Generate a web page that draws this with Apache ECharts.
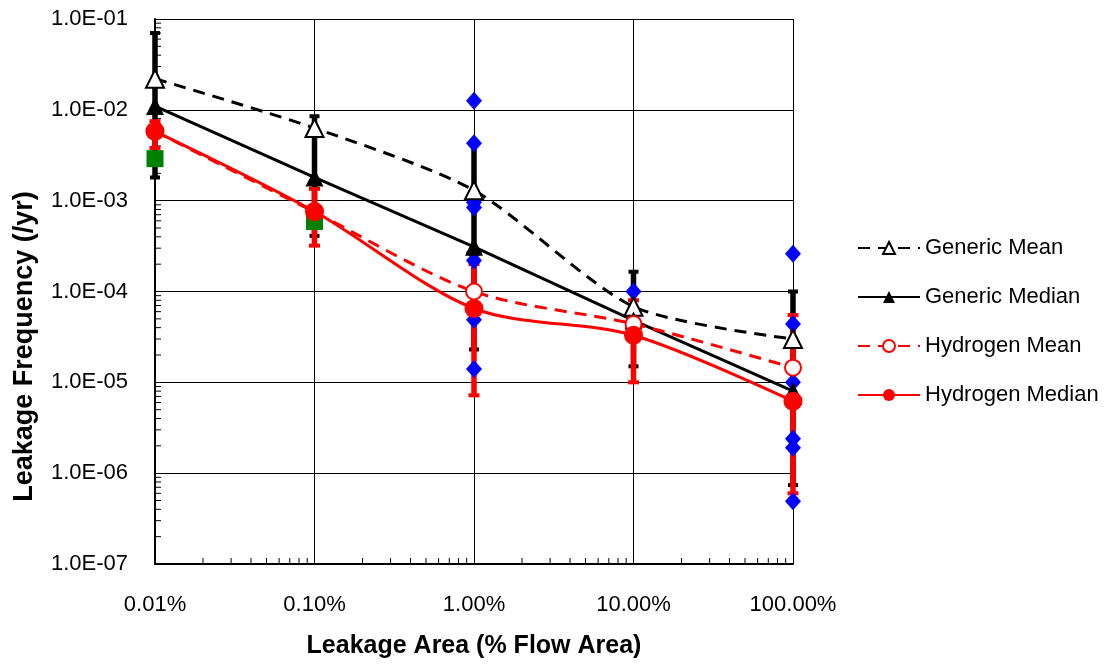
<!DOCTYPE html>
<html lang="en">
<head>
  <meta charset="UTF-8">
  <title>Leakage Frequency</title>
  <script src="https://cdn.jsdelivr.net/npm/echarts@6/dist/echarts.min.js"></script>
</head>
<body style="margin:0;background:#fff">
  <div id="main" style="width:1104px;height:664px;"></div>
  <script>
    // leakage area (% of flow area)
    var areas = [0.01, 0.1, 1, 10, 100];
    // leakage frequency (/yr)
    var genericMean    = [2.2e-2, 6.3e-3, 1.3e-3, 6.8e-5, 3.0e-5];
    var genericMedian  = [1.1e-2, 1.8e-3, 3.1e-4, 4.8e-5, 8.0e-6];
    var hydrogenMean   = [5.8e-3, 7.5e-4, 1.0e-4, 4.4e-5, 1.45e-5];
    var hydrogenMedian = [5.8e-3, 7.6e-4, 6.5e-5, 3.3e-5, 6.2e-6];
    // error bars [low, high]
    var genericBars  = [[1.8e-3, 7.0e-2], [4.1e-4, 8.5e-3], [2.3e-5, 4.3e-3], [1.5e-5, 1.65e-4], [7.4e-7, 1.0e-4]];
    var hydrogenBars = [[3.8e-3, 7.5e-3], [3.2e-4, 1.35e-3], [7.2e-6, 2.0e-4], [1.0e-5, 8.0e-5], [6.0e-7, 5.5e-5]];
    // green squares
    var squareX = [0.01, 0.1];
    var squareY = [2.9e-3, 5.9e-4];
    // blue diamonds
    var diamondX = [1, 1, 1, 1, 1, 1, 1, 1, 10, 100, 100, 100, 100, 100, 100];
    var diamondY = [1.26e-2, 4.3e-3, 9.6e-4, 8.4e-4, 2.7e-4, 2.2e-4, 4.9e-5, 1.4e-5,
                    1.0e-4, 2.6e-4, 4.4e-5, 1.0e-5, 2.4e-6, 1.9e-6, 4.9e-7];
    var yTicks = [1e-7, 1e-6, 1e-5, 1e-4, 1e-3, 1e-2, 1e-1];

    function pairs(xs, ys) { return xs.map(function (x, i) { return [x, ys[i]]; }); }
    function bars(list) { return list.map(function (b, i) { return [areas[i], b[0], b[1]]; }); }

    // minor log ticks (2..9 in every decade)
    var xMinor = [], yMinor = [];
    for (var d = -2; d < 2; d++) for (var k = 2; k <= 9; k++) xMinor.push([k * Math.pow(10, d), yTicks[0]]);
    for (var d2 = -7; d2 < -1; d2++) for (var k2 = 2; k2 <= 9; k2++) yMinor.push([areas[0], k2 * Math.pow(10, d2)]);

    var font = 'Arial, "Liberation Sans", sans-serif';

    function errRender(color, w, capW) {
      return function (params, api) {
        var lo = api.coord([api.value(0), api.value(1)]);
        var hi = api.coord([api.value(0), api.value(2)]);
        return {
          type: 'group',
          children: [
            { type: 'line', shape: { x1: lo[0], y1: lo[1], x2: hi[0], y2: hi[1] }, style: { stroke: color, lineWidth: w } },
            { type: 'line', shape: { x1: lo[0] - capW / 2, y1: lo[1], x2: lo[0] + capW / 2, y2: lo[1] }, style: { stroke: color, lineWidth: 4 } },
            { type: 'line', shape: { x1: hi[0] - capW / 2, y1: hi[1], x2: hi[0] + capW / 2, y2: hi[1] }, style: { stroke: color, lineWidth: 4 } }
          ]
        };
      };
    }

    function tickRender(horizontal) {
      return function (params, api) {
        var p = api.coord([api.value(0), api.value(1)]);
        var shape = horizontal
          ? { x1: p[0], y1: p[1], x2: p[0] + 6, y2: p[1] }
          : { x1: p[0], y1: p[1], x2: p[0], y2: p[1] - 6 };
        return { type: 'line', shape: shape, style: { stroke: '#000', lineWidth: 1 } };
      };
    }

    var chart = echarts.init(document.getElementById('main'));
    chart.setOption({
      animation: false,
      textStyle: { fontFamily: font },
      grid: { left: 155, top: 19, right: 311, bottom: 96 },
      legend: {
        orient: 'vertical', left: 852, top: 232, itemWidth: 62, itemHeight: 15, itemGap: 27,
        textStyle: { fontSize: 22, color: '#000', fontFamily: font },
        data: ['Generic Mean', 'Generic Median', 'Hydrogen Mean', 'Hydrogen Median']
      },
      xAxis: {
        type: 'log', logBase: 10, min: 0.01, max: 100,
        name: 'Leakage Area (% Flow Area)', nameLocation: 'middle', nameGap: 70,
        nameTextStyle: { fontSize: 25, fontWeight: 'bold', color: '#000', fontFamily: font },
        axisLine: { lineStyle: { color: '#000', width: 2 } },
        axisTick: { show: false },
        axisLabel: { fontSize: 22, color: '#000', margin: 30, formatter: function (v) { return v.toFixed(2) + '%'; } },
        splitLine: { show: true, lineStyle: { color: '#000', width: 1 } }
      },
      yAxis: {
        type: 'log', logBase: 10, min: 1e-7, max: 1e-1,
        name: 'Leakage Frequency (/yr)', nameLocation: 'middle', nameGap: 117, nameRotate: 90,
        nameTextStyle: { fontSize: 27, fontWeight: 'bold', color: '#000', fontFamily: font, padding: [0, 110, 0, 0] },
        axisLine: { lineStyle: { color: '#000', width: 2 } },
        axisTick: { show: false },
        axisLabel: {
          fontSize: 22, color: '#000', margin: 27,
          formatter: function (v) {
            var e = Math.round(Math.log10(v));
            return '1.0E' + (e < 0 ? '-' : '+') + String(Math.abs(e)).padStart(2, '0');
          }
        },
        splitLine: { show: true, lineStyle: { color: '#000', width: 1 } }
      },
      series: [
        { type: 'custom', name: 'xminor', silent: true, data: xMinor, renderItem: tickRender(false) },
        { type: 'custom', name: 'yminor', silent: true, data: yMinor, renderItem: tickRender(true) },
        { type: 'custom', name: 'genericBars', silent: true, data: bars(genericBars), renderItem: errRender('#000', 5.5, 10) },
        { type: 'custom', name: 'hydrogenBars', silent: true, data: bars(hydrogenBars), renderItem: errRender('#ff0000', 5.5, 11) },
        {
          type: 'line', name: 'Generic Mean', data: pairs(areas, genericMean), smooth: 0.25,
          symbol: 'emptyTriangle', symbolSize: 18,
          lineStyle: { color: '#000', width: 3, type: [12, 8] },
          itemStyle: { color: '#000', borderColor: '#000', borderWidth: 1.5 }
        },
        {
          type: 'line', name: 'Generic Median', data: pairs(areas, genericMedian),
          symbol: 'triangle', symbolSize: 18,
          lineStyle: { color: '#000', width: 3 },
          itemStyle: { color: '#000' }
        },
        {
          type: 'line', name: 'Hydrogen Mean', data: pairs(areas, hydrogenMean), smooth: 0.3,
          symbol: 'emptyCircle', symbolSize: 16,
          lineStyle: { color: '#ff0000', width: 3, type: [12, 8] },
          itemStyle: { color: '#ff0000', borderColor: '#ff0000', borderWidth: 1.5 }
        },
        {
          type: 'line', name: 'Hydrogen Median', data: pairs(areas, hydrogenMedian), smooth: 0.3,
          symbol: 'circle', symbolSize: 19,
          lineStyle: { color: '#ff0000', width: 3 },
          itemStyle: { color: '#ff0000' }
        },
        {
          type: 'scatter', name: 'squares', data: pairs(squareX, squareY),
          symbol: 'rect', symbolSize: 17, itemStyle: { color: '#008000', opacity: 1 }
        },
        {
          type: 'scatter', name: 'diamonds', data: pairs(diamondX, diamondY),
          symbol: 'diamond', symbolSize: [16, 18], itemStyle: { color: '#0000ff', opacity: 1 }
        }
      ]
    });
  </script>
</body>
</html>
